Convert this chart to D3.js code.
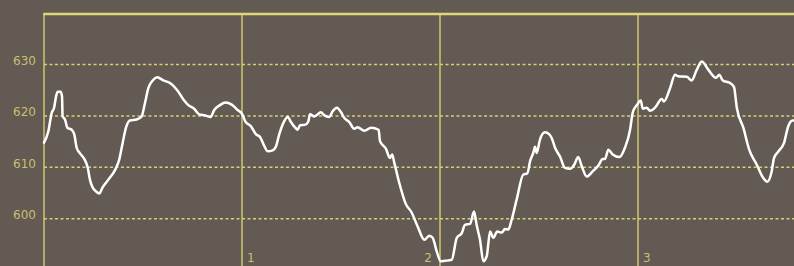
<!DOCTYPE html>
<html>
<head>
<meta charset="utf-8">
<script src="https://cdnjs.cloudflare.com/ajax/libs/d3/7.8.5/d3.min.js"></script>
<style>
  html, body { margin: 0; padding: 0; background: #625a53; }
  svg { display: block; }
</style>
</head>
<body>
<div id="graph"></div>
<script>
'use strict';

// series: position along x (in the chart's own units) and the value
var xValues = [
  0.000, 0.022, 0.039, 0.051, 0.061, 0.069, 0.084, 0.091, 0.094, 0.106,
  0.118, 0.140, 0.153, 0.165, 0.182, 0.204, 0.221, 0.232, 0.244, 0.263,
  0.279, 0.296, 0.325, 0.359, 0.380, 0.397, 0.414, 0.434, 0.468, 0.493,
  0.510, 0.527, 0.549, 0.572, 0.603, 0.640, 0.673, 0.704, 0.729, 0.758,
  0.784, 0.813, 0.842, 0.859, 0.889, 0.916, 0.948, 0.976, 1.000, 1.017,
  1.045, 1.071, 1.091, 1.113, 1.130, 1.155, 1.172, 1.188, 1.211, 1.231,
  1.247, 1.269, 1.281, 1.293, 1.320, 1.335, 1.343, 1.365, 1.399, 1.416,
  1.441, 1.458, 1.480, 1.500, 1.517, 1.542, 1.567, 1.584, 1.618, 1.652,
  1.690, 1.697, 1.727, 1.747, 1.758, 1.769, 1.794, 1.828, 1.854, 1.887,
  1.921, 1.946, 1.963, 1.983, 2.004, 2.025, 2.059, 2.085, 2.110, 2.126,
  2.152, 2.172, 2.185, 2.202, 2.219, 2.236, 2.253, 2.269, 2.289, 2.312,
  2.328, 2.345, 2.362, 2.387, 2.421, 2.441, 2.455, 2.471, 2.480, 2.488,
  2.505, 2.530, 2.552, 2.564, 2.581, 2.606, 2.631, 2.657, 2.678, 2.698,
  2.716, 2.741, 2.771, 2.799, 2.822, 2.833, 2.850, 2.872, 2.906, 2.934,
  2.960, 2.973, 2.996, 3.014, 3.024, 3.044, 3.061, 3.086, 3.120, 3.131,
  3.162, 3.187, 3.203, 3.246, 3.271, 3.296, 3.322, 3.355, 3.394, 3.411,
  3.428, 3.465, 3.485, 3.499, 3.532, 3.562, 3.600, 3.633, 3.653, 3.675,
  3.687, 3.709, 3.737, 3.759, 3.781, 3.790
];
var seriesValues = [
  614.8, 617.0, 620.6, 621.6, 623.8, 624.7, 624.7, 623.8, 619.9, 619.3,
  617.7, 617.3, 616.4, 613.8, 612.7, 611.6, 609.9, 607.6, 606.2, 605.3,
  604.9, 606.1, 607.6, 609.5, 611.5, 614.7, 617.7, 619.1, 619.3, 619.9,
  622.5, 625.4, 626.9, 627.5, 626.9, 626.3, 625.0, 623.2, 622.1, 621.4,
  620.3, 620.1, 619.8, 621.1, 622.1, 622.6, 622.2, 621.2, 620.4, 618.9,
  618.0, 616.4, 615.9, 614.1, 613.1, 613.3, 614.1, 616.4, 618.8, 619.8,
  618.8, 617.7, 617.3, 618.2, 618.3, 618.9, 620.3, 619.9, 620.7, 620.1,
  619.8, 620.9, 621.6, 620.7, 619.6, 618.8, 617.5, 617.8, 617.1, 617.7,
  617.3, 615.1, 613.6, 611.8, 612.5, 610.9, 607.0, 602.8, 601.4, 598.5,
  595.9, 596.7, 596.3, 593.7, 591.7, 591.8, 592.0, 596.3, 597.2, 598.8,
  599.0, 601.4, 598.8, 595.9, 591.7, 592.7, 597.5, 596.3, 597.5, 597.3,
  598.0, 597.9, 599.8, 603.7, 608.6, 608.8, 611.2, 612.8, 614.0, 612.8,
  615.4, 616.8, 616.4, 615.7, 613.8, 612.1, 609.9, 609.7, 610.5, 612.0,
  610.2, 608.2, 609.2, 610.3, 611.6, 611.6, 613.4, 612.5, 612.0, 613.8,
  617.3, 620.6, 622.2, 623.0, 621.4, 621.6, 621.0, 621.6, 623.3, 622.8,
  625.4, 628.0, 627.7, 627.6, 626.9, 628.9, 630.6, 629.0, 627.4, 628.0,
  626.9, 626.4, 625.6, 621.6, 617.7, 613.4, 610.5, 607.9, 607.2, 609.2,
  611.8, 613.1, 614.7, 618.0, 619.1, 619.1
];
var yTicks = [600, 610, 620, 630];
var xTicks = [1, 2, 3];

var canvasWidth = 794;
var canvasHeight = 266;
var margin = { top: 14, left: 44 };

var svg = d3.select('#graph')
  .append('svg')
  .attr('width', canvasWidth)
  .attr('height', canvasHeight);

svg.append('rect')
  .attr('width', canvasWidth)
  .attr('height', canvasHeight)
  .attr('fill', '#625a53');

// 198px per x unit, 600..630 spans 64.5..218.7
var xScale = d3.scaleLinear().domain([0, 1]).range([margin.left, margin.left + 198]);
var yScale = d3.scaleLinear().domain([600, 630]).range([218.7, 64.5]);

var gridColor = '#d9d073';
var labelColor = '#c9c06f';

// dashed horizontal grid
svg.append('g')
  .selectAll('line')
  .data(yTicks)
  .enter()
  .append('line')
  .attr('x1', margin.left)
  .attr('x2', canvasWidth)
  .attr('y1', function(d) { return yScale(d); })
  .attr('y2', function(d) { return yScale(d); })
  .attr('stroke', gridColor)
  .attr('stroke-width', 1.5)
  .attr('stroke-dasharray', '3,2.5');

// y labels
svg.append('g')
  .selectAll('text')
  .data(yTicks)
  .enter()
  .append('text')
  .attr('x', 36)
  .attr('y', function(d) { return yScale(d) + 0.5; })
  .attr('text-anchor', 'end')
  .attr('font-family', 'DejaVu Sans, sans-serif')
  .attr('font-size', '12px')
  .attr('fill', labelColor)
  .text(function(d) { return d; });

// vertical lines (axis at 0 plus one per tick)
svg.append('g')
  .selectAll('line')
  .data([0].concat(xTicks))
  .enter()
  .append('line')
  .attr('x1', function(d) { return xScale(d); })
  .attr('x2', function(d) { return xScale(d); })
  .attr('y1', margin.top)
  .attr('y2', canvasHeight)
  .attr('stroke', '#d0c770')
  .attr('stroke-width', 1.5);

// top border
svg.append('line')
  .attr('x1', margin.left - 0.75)
  .attr('x2', canvasWidth)
  .attr('y1', margin.top)
  .attr('y2', margin.top)
  .attr('stroke', '#e0d77a')
  .attr('stroke-width', 2.5);

// x labels: flip to the left of the line when the series runs low there
var data = xValues.map(function(x, i) { return { x: x, v: seriesValues[i] }; });
function valueAt(x) {
  var i = d3.bisector(function(d) { return d.x; }).left(data, x);
  return data[Math.min(i, data.length - 1)].v;
}
svg.append('g')
  .selectAll('text')
  .data(xTicks)
  .enter()
  .append('text')
  .attr('x', function(d) {
    return yScale(valueAt(d)) > 240 ? xScale(d) - 8 : xScale(d) + 5;
  })
  .attr('y', 262)
  .attr('text-anchor', function(d) {
    return yScale(valueAt(d)) > 240 ? 'end' : 'start';
  })
  .attr('font-family', 'DejaVu Sans, sans-serif')
  .attr('font-size', '12px')
  .attr('fill', labelColor)
  .text(function(d) { return d; });

// the series line
var line = d3.line()
  .x(function(d) { return xScale(d.x); })
  .y(function(d) { return yScale(d.v); })
  .curve(d3.curveMonotoneX);

svg.append('path')
  .datum(data)
  .attr('d', line)
  .attr('fill', 'none')
  .attr('stroke', '#ffffff')
  .attr('stroke-width', 2.5)
  .attr('stroke-linejoin', 'round')
  .attr('stroke-linecap', 'round');
</script>
</body>
</html>
